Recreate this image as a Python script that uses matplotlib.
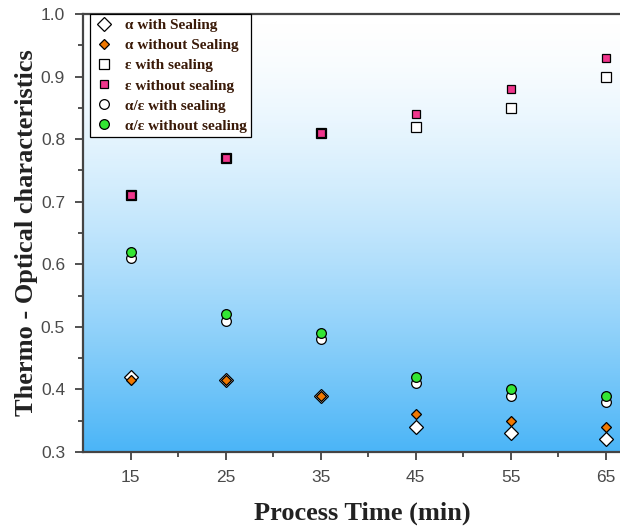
import numpy as np
import matplotlib
matplotlib.use('Agg')
import matplotlib.pyplot as plt
from matplotlib.colors import LinearSegmentedColormap

# process time (min)
times = [15, 25, 35, 45, 55, 65]

# absorptance (alpha)
alpha_seal = [0.42, 0.415, 0.39, 0.34, 0.33, 0.32]
alpha_noseal = [0.415, 0.415, 0.39, 0.36, 0.35, 0.34]
# emittance (epsilon)
eps_seal = [0.71, 0.77, 0.81, 0.82, 0.85, 0.90]
eps_noseal = [0.71, 0.77, 0.81, 0.84, 0.88, 0.93]
# alpha / epsilon ratio
ratio_seal = [0.61, 0.51, 0.48, 0.41, 0.39, 0.38]
ratio_noseal = [0.62, 0.52, 0.49, 0.42, 0.40, 0.39]

fig = plt.figure(figsize=(6.2, 5.28), dpi=100)
ax = fig.add_axes([0.134, 0.144, 0.9, 0.8295])

# background gradient, white at top to sky blue at bottom
h = np.linspace(0, 1, 256)
grad = ((1 - h) ** 1.5)[:, None]
cmap = LinearSegmentedColormap.from_list('bg', ['#ffffff', '#4bb5f7'])
ax.imshow(grad, aspect='auto', cmap=cmap, origin='lower',
          extent=[10, 68.7, 0.3, 1.0], zorder=0, interpolation='bicubic')

kw = dict(linestyle='none', markeredgecolor='black', markeredgewidth=0.9, zorder=3)
ax.plot(times, alpha_seal, marker='D', ms=7.5, mfc='white', label='\u03b1 with Sealing', **kw)
ax.plot(times, alpha_noseal, marker='D', ms=5.5, mfc='#f07800', label='\u03b1 without Sealing', **kw)
ax.plot(times, eps_seal, marker='s', ms=7, mfc='white', label='\u03b5 with sealing', **kw)
ax.plot(times, eps_noseal, marker='s', ms=5.5, mfc='#f0368c', label='\u03b5 without sealing', **kw)
ax.plot(times, ratio_seal, marker='o', ms=7, mfc='white', label='\u03b1/\u03b5 with sealing', **kw)
ax.plot(times, ratio_noseal, marker='o', ms=7, mfc='#33e633', label='\u03b1/\u03b5 without sealing', **kw)

ax.set_xlim(10, 68.7)
ax.set_ylim(0.3, 1.0)
ax.set_xticks(times)
ax.set_xticks([20, 30, 40, 50, 60], minor=True)
ax.set_yticks(np.arange(0.3, 1.01, 0.1))
ax.set_yticks(np.arange(0.35, 1.0, 0.1), minor=True)
ax.set_yticklabels([f'{v:.1f}' for v in np.arange(0.3, 1.01, 0.1)])

for s in ax.spines.values():
    s.set_linewidth(1.6)
    s.set_color('#444444')
ax.tick_params(which='major', direction='out', length=6, width=1.2, color='#333333',
               labelsize=12.5, labelcolor='#4a4a4a', pad=7)
ax.tick_params(which='minor', direction='out', length=3.5, width=1.2, color='#333333')
for lbl in ax.get_xticklabels() + ax.get_yticklabels():
    lbl.set_fontfamily('Liberation Sans')

ax.set_xlabel('Process Time (min)', fontfamily='Liberation Serif', fontweight='bold',
              fontsize=19, color='#222222', labelpad=12)
ax.set_ylabel('Thermo - Optical characteristics', fontfamily='Liberation Serif',
              fontweight='bold', fontsize=19, color='#222222', labelpad=2)

leg = ax.legend(loc='upper left', bbox_to_anchor=(0.012, 1.0), frameon=True, fancybox=False,
                prop={'family': 'Liberation Serif', 'weight': 'bold', 'size': 11},
                borderpad=0.3, labelspacing=0.42, handletextpad=0.7, handlelength=1.3,
                borderaxespad=0)
leg.get_frame().set_edgecolor('black')
leg.get_frame().set_linewidth(0.9)
leg.get_frame().set_alpha(1)
for txt in leg.get_texts():
    txt.set_color('#3a1a08')

fig.savefig('out.png', dpi=100)
